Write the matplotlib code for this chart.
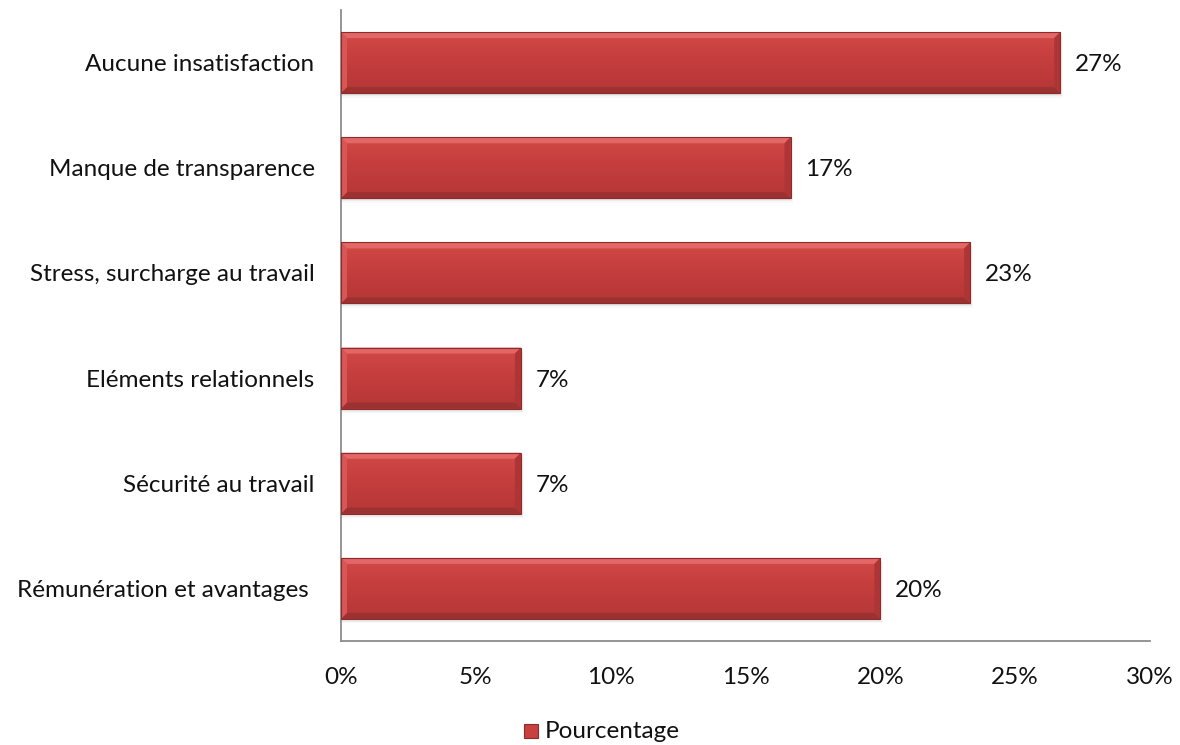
import numpy as np
import matplotlib
matplotlib.use("Agg")
import matplotlib.pyplot as plt
from matplotlib.patches import Rectangle, Polygon
from matplotlib.colors import LinearSegmentedColormap

plt.rcParams['font.family'] = ['Lato', 'DejaVu Sans']

# Categories listed from bottom to top
categories = ["Rémunération et avantages ", "Sécurité au travail", "Eléments relationnels",
              "Stress, surcharge au travail", "Manque de transparence", "Aucune insatisfaction"]
values = [20.0, 6.67, 6.67, 23.33, 16.67, 26.67]
xticks = [0, 5, 10, 15, 20, 25, 30]
series_name = "Pourcentage"

W, H, DPI = 11.8, 7.45, 100
FS = 17.5
fig = plt.figure(figsize=(W, H), dpi=DPI)
left, right, bottom, top = 341 / 1180, 1150 / 1180, 104 / 745, 735 / 745
ax = fig.add_axes([left, bottom, right - left, top - bottom])

xmax = 30
ax.set_xlim(0, xmax)
ax.set_ylim(-0.5, len(categories) - 0.5)

# pixel -> data conversion for the bevel geometry
ax_w_px = (right - left) * W * DPI
ax_h_px = (top - bottom) * H * DPI
px_x = xmax / ax_w_px
px_y = len(categories) / ax_h_px

bar_h = 0.58
face_cmap = LinearSegmentedColormap.from_list(
    "face", ["#D24A48", "#C8403F", "#BF3B3B", "#B53636"])

for i, v in enumerate(values):
    y0, y1 = i - bar_h / 2, i + bar_h / 2
    # soft shadow beneath the bar
    for k, a in enumerate([0.10, 0.07, 0.04]):
        d = (k + 1) * 1.5
        ax.add_patch(Rectangle((0, y0 - d * px_y), v + d * px_x * 0.6, bar_h,
                               facecolor="#555555", alpha=a, lw=0, zorder=1))
    # face with vertical gradient
    grad = np.linspace(0, 1, 64).reshape(-1, 1)
    ax.imshow(grad, cmap=face_cmap, aspect="auto", origin="upper",
              extent=(0, v, y0, y1), zorder=2, interpolation="bicubic")
    b = 6
    bx, by = b * px_x, b * px_y
    # bevel edges: top, bottom, left, right
    ax.add_patch(Polygon([(0, y1), (v, y1), (v - bx, y1 - by), (bx, y1 - by)],
                         closed=True, facecolor="#E26766", lw=0, zorder=3))
    ax.add_patch(Polygon([(0, y0), (v, y0), (v - bx, y0 + by), (bx, y0 + by)],
                         closed=True, facecolor="#9C3131", lw=0, zorder=3))
    ax.add_patch(Polygon([(0, y0), (0, y1), (bx, y1 - by), (bx, y0 + by)],
                         closed=True, facecolor="#D85756", lw=0, zorder=3))
    ax.add_patch(Polygon([(v, y0), (v, y1), (v - bx, y1 - by), (v - bx, y0 + by)],
                         closed=True, facecolor="#AE3535", lw=0, zorder=3))
    # thin outline
    ax.add_patch(Rectangle((0, y0), v, bar_h, facecolor="none",
                           edgecolor="#8E2A2A", lw=0.8, zorder=4))
    ax.text(v + 15 * px_x, i - 2 * px_y, f"{v:.0f}%", va="center", ha="left",
            fontsize=FS, color="#111111", zorder=5)

ax.set_yticks(range(len(categories)))
ax.set_yticklabels(categories, fontsize=FS, color="#111111")
ax.set_xticks(xticks)
ax.set_xticklabels([f"{t}%" for t in xticks], fontsize=FS, color="#111111")
ax.tick_params(axis="both", length=0)
ax.tick_params(axis="y", pad=19)
ax.tick_params(axis="x", pad=19)

for s in ["top", "right"]:
    ax.spines[s].set_visible(False)
for s in ["left", "bottom"]:
    ax.spines[s].set_color("#8C8C8C")
    ax.spines[s].set_linewidth(1.3)
ax.set_axisbelow(False)

# legend below the chart
lx, ly = 524 / 1180, 7 / 745
fig.patches.append(Rectangle((lx, ly), 14 / 1180, 14 / 745, transform=fig.transFigure,
                             facecolor="#C8403F", edgecolor="#8E2A2A", lw=0.8))
fig.text(545 / 1180, ly + 7 / 745, series_name, fontsize=FS, va="center",
         ha="left", color="#111111")

fig.savefig("out.png", dpi=DPI)
